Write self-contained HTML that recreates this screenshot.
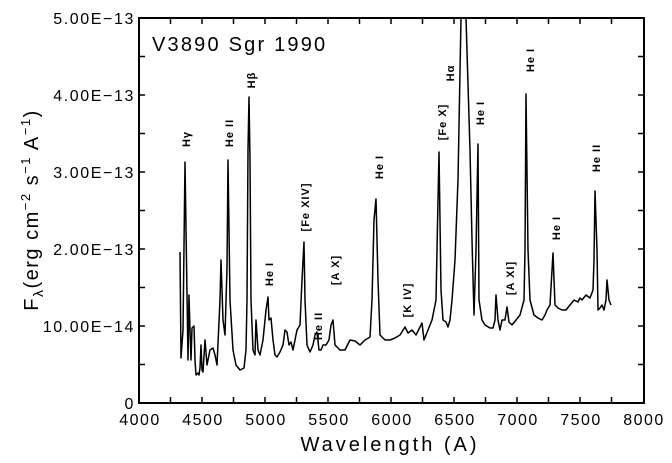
<!DOCTYPE html>
<html><head><meta charset="utf-8"><style>
html,body{margin:0;padding:0;background:#fff;}
svg{display:block;font-family:"Liberation Sans",sans-serif;}
</style></head><body>
<svg width="672" height="463" viewBox="0 0 672 463" xmlns="http://www.w3.org/2000/svg">
<rect width="672" height="463" fill="#fff"/>
<g stroke="#000" stroke-width="2" fill="none">
<rect x="139" y="18" width="505" height="385"/>
</g>
<g stroke="#000" stroke-width="1.5">
<path d="M170.5 403v-6M202 403v-6M233.5 403v-6M265 403v-6M296.5 403v-6M328 403v-6M359.5 403v-6M391 403v-6M422.5 403v-6M454 403v-6M485.5 403v-6M517 403v-6M548.5 403v-6M580 403v-6M611.5 403v-6
M170.5 18v6M202 18v6M233.5 18v6M265 18v6M296.5 18v6M328 18v6M359.5 18v6M391 18v6M422.5 18v6M454 18v6M485.5 18v6M517 18v6M548.5 18v6M580 18v6M611.5 18v6"/>
<path d="M139 364.5h6M139 326h6M139 287.5h6M139 249h6M139 210.5h6M139 172h6M139 133.5h6M139 95h6M139 56.5h6
M644 364.5h-6M644 326h-6M644 287.5h-6M644 249h-6M644 210.5h-6M644 172h-6M644 133.5h-6M644 95h-6M644 56.5h-6"/>
</g>
<g font-size="16" fill="#000" text-anchor="end" letter-spacing="1.6">
<text x="135" y="24">5.00E−13</text>
<text x="135" y="101">4.00E−13</text>
<text x="135" y="178">3.00E−13</text>
<text x="135" y="255">2.00E−13</text>
<text x="135" y="332">10.00E−14</text>
<text x="135" y="409">0</text>
</g>
<g font-size="16" fill="#000" text-anchor="middle" letter-spacing="1.5">
<text x="140" y="425">4000</text>
<text x="203" y="425">4500</text>
<text x="266" y="425">5000</text>
<text x="329" y="425">5500</text>
<text x="392" y="425">6000</text>
<text x="455" y="425">6500</text>
<text x="518" y="425">7000</text>
<text x="581" y="425">7500</text>
<text x="644" y="425">8000</text>
</g>
<text x="390" y="451" font-size="20" text-anchor="middle" letter-spacing="3">Wavelength (A)</text>
<text x="152" y="51" font-size="20" letter-spacing="2.2">V3890 Sgr 1990</text>
<text transform="translate(38,210) rotate(-90)" font-size="20" text-anchor="middle" letter-spacing="1.5">F<tspan font-size="14" dy="5">λ</tspan><tspan dy="-5">(erg cm</tspan><tspan font-size="13" dy="-8">−2</tspan><tspan dy="8"> s</tspan><tspan font-size="13" dy="-8">−1</tspan><tspan dy="8"> A</tspan><tspan font-size="13" dy="-8">−1</tspan><tspan dy="8">)</tspan></text>
<path fill="none" stroke="#000" stroke-width="1.5" stroke-linejoin="round" d="
M180 252 L181 358 L183 330 L185 162 L188 360 L189 295 L190 330 L191 360 L192 328 L194 326 L195 360 L196 375 L198 373 L199 375 L200 368 L201 345 L202 370 L203 372 L205 340 L207 365 L210 350 L213 348 L215 355 L217 365 L220 300 L221 260 L223 320 L225 335 L227 268 L228 160 L230 300 L233 350 L236 365 L240 370 L244 368 L246 350 L247 300 L248 150 L249 97 L250 160 L251 300 L253 350 L255 355 L256 320 L258 350 L260 355 L263 340 L266 310 L268 297 L269 320 L271 318 L273 340 L275 355 L277 357 L280 352 L283 345 L285 330 L287 332 L289 345 L291 342 L293 350 L295 340 L297 330 L300 325 L302 280 L304 242 L305 300 L307 345 L310 352 L313 345 L315 335 L317 332 L319 350 L321 350 L323 345 L326 345 L329 340 L331 325 L333 320 L335 345 L340 350 L345 350 L350 340 L355 341 L360 345 L365 340 L370 337 L372 300 L374 220 L376 199 L378 280 L380 335 L385 340 L390 340 L395 338 L400 335 L405 327 L408 333 L412 330 L416 335 L422 323 L424 340 L428 330 L432 320 L434 310 L436 300 L438 200 L439 152 L441 290 L443 320 L446 322 L448 327 L450 320 L452 300 L455 260 L458 180 L461 18 M466 18 L470 150 L472 240 L474 315 L476 250 L478 144 L479 300 L482 320 L485 325 L490 328 L493 328 L495 320 L496 295 L498 320 L500 330 L502 320 L505 320 L507 307 L509 322 L512 325 L516 320 L520 315 L524 300 L525 250 L526 94 L528 250 L530 300 L534 315 L538 318 L542 320 L545 315 L547 310 L550 305 L553 253 L555 305 L558 308 L562 310 L566 310 L570 305 L574 300 L578 302 L580 298 L582 300 L586 295 L590 298 L593 290 L594 260 L595 191 L597 250 L598 310 L600 308 L602 305 L604 310 L606 300 L607 280 L609 300 L611 305"/>
<g font-size="11" font-weight="bold" fill="#000" text-anchor="middle" letter-spacing="1">
<text transform="translate(190,139) rotate(-90)">Hγ</text>
<text transform="translate(233,133) rotate(-90)">He II</text>
<text transform="translate(255,80) rotate(-90)">Hβ</text>
<text transform="translate(273,274) rotate(-90)">He I</text>
<text transform="translate(309,207) rotate(-90)">[Fe XIV]</text>
<text transform="translate(322,326) rotate(-90)">He II</text>
<text transform="translate(339,270) rotate(-90)">[A X]</text>
<text transform="translate(383,167) rotate(-90)">He I</text>
<text transform="translate(411,300) rotate(-90)">[K IV]</text>
<text transform="translate(446,122) rotate(-90)">[Fe X]</text>
<text transform="translate(454,73) rotate(-90)">Hα</text>
<text transform="translate(484,113) rotate(-90)">He I</text>
<text transform="translate(514,278) rotate(-90)">[A XI]</text>
<text transform="translate(534,60) rotate(-90)">He I</text>
<text transform="translate(560,228) rotate(-90)">He I</text>
<text transform="translate(600,158) rotate(-90)">He II</text>
</g>
</svg>
</body></html>
